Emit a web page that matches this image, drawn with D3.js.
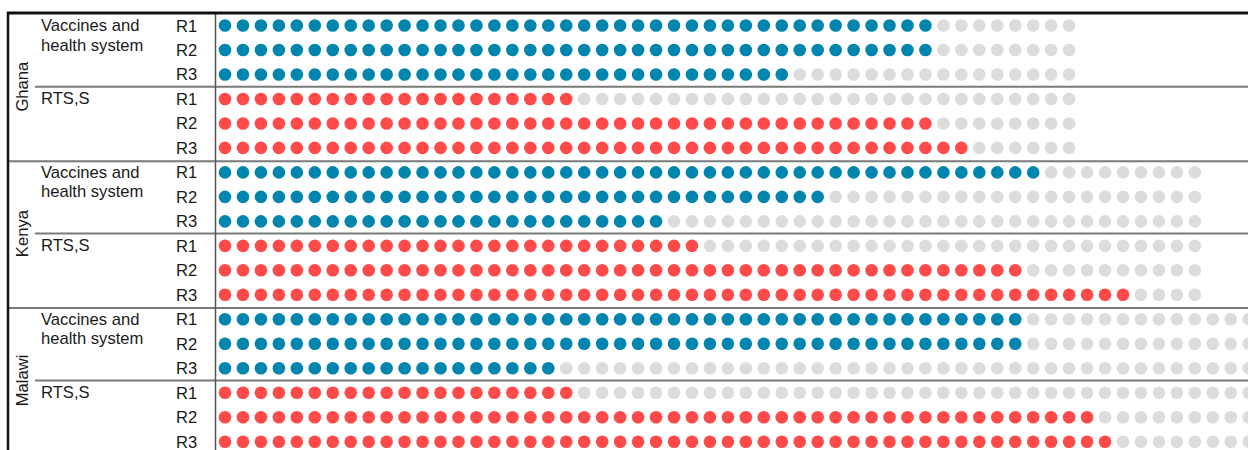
<!doctype html>
<html>
<head>
<meta charset="utf-8"/>
<script src="https://cdnjs.cloudflare.com/ajax/libs/d3/7.8.5/d3.min.js"></script>
<style>
  body { margin: 0; background: #fff; }
  svg { display: block; }
  text { font-family: "Liberation Sans", Arial, sans-serif; font-size: 16.6px; fill: #1a1a1a; }
  .sep { stroke: #7a7a7a; stroke-width: 2; }
</style>
</head>
<body>
<svg width="1248" height="450"></svg>
<script>
var countries = ["Ghana", "Kenya", "Malawi"];
var groups = [["Vaccines and", "health system"], ["RTS,S"]];
var rounds = ["R1", "R2", "R3"];
// total dots per country row
var totals = [48, 55, 58];
// filled dots: [country][round]
var vaccineFilled = [[40, 40, 32], [46, 34, 25], [45, 45, 19]];
var rtssFilled = [[20, 40, 42], [27, 45, 51], [20, 49, 50]];
var groupColors = ["#0085ae", "#ff4a4a"];
var emptyColor = "#dcdcdc";

var svg = d3.select("svg");
var W = 1248, H = 450;

var x = d3.scaleLinear().domain([0, 57]).range([225, 225 + 57 * 17.96]);
var y = d3.scaleLinear().domain([0, 17]).range([25.5, 441.7]);

// build rows
var rows = [];
countries.forEach((c, ci) => {
  [vaccineFilled, rtssFilled].forEach((arr, gi) => {
    rounds.forEach((r, ri) => {
      rows.push({country: ci, group: gi, round: r, filled: arr[ci][ri], total: totals[ci], idx: ci * 6 + gi * 3 + ri});
    });
  });
});

var dots = [];
rows.forEach(row => {
  d3.range(row.total).forEach(i => {
    dots.push({row: row.idx, i: i, color: i < row.filled ? groupColors[row.group] : emptyColor});
  });
});

svg.append("g").selectAll("circle")
  .data(dots)
  .enter()
  .append("circle")
  .attr("cx", d => x(d.i))
  .attr("cy", d => y(d.row))
  .attr("r", 6.3)
  .attr("fill", d => d.color);

// round labels
svg.append("g").selectAll("text")
  .data(rows)
  .enter()
  .append("text")
  .attr("x", 176)
  .attr("y", d => y(d.idx) + 6)
  .text(d => d.round);

// group labels
countries.forEach((c, ci) => {
  groups.forEach((g, gi) => {
    var top = ci * 6 + gi * 3;
    var t = svg.append("text").attr("x", 41).attr("y", y(top) + 5.5);
    g.forEach((line, li) => {
      t.append("tspan").attr("x", 41).attr("dy", li === 0 ? 0 : 19.5).text(line);
    });
  });
  // country label
  var cy = y(ci * 6 + 2.5);
  svg.append("text")
    .attr("transform", "translate(28," + cy + ") rotate(-90)")
    .attr("text-anchor", "middle")
    .text(c);
});

// group separators
countries.forEach((c, ci) => {
  var sy = y(ci * 6 + 2.5);
  svg.append("line").attr("class", "sep")
    .attr("x1", 35).attr("x2", W).attr("y1", sy).attr("y2", sy);
  if (ci > 0) {
    var cyy = y(ci * 6 - 0.5) + 1;
    svg.append("line").attr("class", "sep")
      .attr("x1", 8).attr("x2", W).attr("y1", cyy).attr("y2", cyy);
  }
});

// vertical separator
svg.append("line")
  .attr("x1", 215.5).attr("x2", 215.5).attr("y1", 12).attr("y2", H)
  .attr("stroke", "#555").attr("stroke-width", 1.5);

// outer border
svg.append("line")
  .attr("x1", 7).attr("x2", W).attr("y1", 13).attr("y2", 13)
  .attr("stroke", "#111").attr("stroke-width", 3);
svg.append("line")
  .attr("x1", 8).attr("x2", 8).attr("y1", 12).attr("y2", H)
  .attr("stroke", "#111").attr("stroke-width", 2.5);
</script>
</body>
</html>
